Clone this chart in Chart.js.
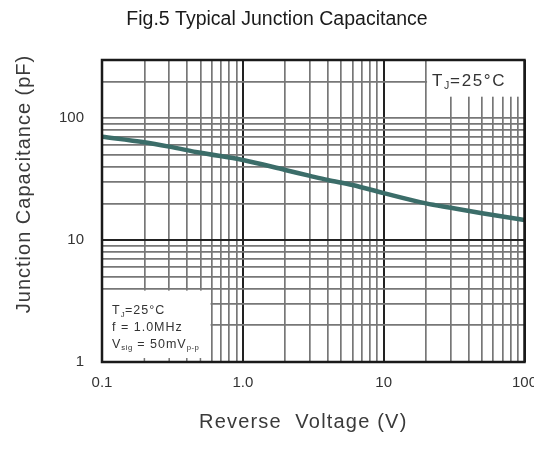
<!DOCTYPE html>
<html>
<head>
<meta charset="utf-8">
<script src="https://cdn.jsdelivr.net/npm/chart.js@4.4.1/dist/chart.umd.min.js"></script>
<style>
html,body{margin:0;padding:0;overflow:hidden;background:#fff;width:534px;height:450px}
#wrap{width:560px;height:450px}
</style>
</head>
<body>
<div id="wrap"><canvas id="c" width="560" height="450"></canvas></div>
<script>
// ---- data ----
const voltage     = [0.1, 0.2, 0.3, 0.5, 1, 2, 3, 4, 6, 10, 20, 30, 50, 100];
const capacitance = [70.5, 63.4, 58.4, 52.0, 45.4, 37.6, 33.6, 31.1, 28.3, 24.3, 20.0, 18.4, 16.6, 14.6];

const xGridValues = [0.1,0.2,0.3,0.4,0.5,0.6,0.7,0.8,0.9,1,2,3,4,5,6,7,8,9,10,20,30,40,50,60,70,80,90,100];
const yGridValues = [1,2,3,4,5,6,7,8,9,10,20,30,40,50,60,70,80,90,100,200,300];
const xTickValues = [0.1, 1, 10, 100];
const xTickLabels = ['0.1', '1.0', '10', '100'];
const yTickValues = [1, 10, 100];
const yTickLabels = ['1', '10', '100'];

const FAM = '"Liberation Sans", Arial, Helvetica, sans-serif';
const same = (a, b) => Math.abs(a - b) <= 1e-9 * Math.max(1, Math.abs(b));
const labelOf = (vals, labels, v) => { const i = vals.findIndex(t => same(t, v)); return i >= 0 ? labels[i] : ''; };
const xDark = [0.1, 1, 10, 100];
const yDark = [1, 10, 300];

function richText(ctx, parts, x, y, size, spacing) {
  let cx = x;
  for (const p of parts) {
    const s = p.sub ? size * 0.62 : size;
    ctx.font = s + 'px ' + FAM;
    ctx.letterSpacing = (p.sub ? spacing * 0.5 : spacing) + 'px';
    ctx.fillText(p.t, cx, y + (p.sub ? size * 0.22 : 0));
    cx += ctx.measureText(p.t).width;
  }
}

const overlay = {
  id: 'overlay',
  beforeDatasetsDraw(chart) {
    const {ctx, chartArea: a, scales: {x, y}} = chart;
    ctx.save();
    ctx.fillStyle = '#fff';
    // top-right note box (grid cleared)
    const x20 = x.getPixelForValue(20);
    const y150 = y.getPixelForValue(150);
    ctx.fillRect(x20 + 1, a.top, a.right - x20 - 1, y150 - a.top);
    // bottom-left note box
    const x06 = x.getPixelForValue(0.6);
    const y4 = y.getPixelForValue(4);
    ctx.fillRect(a.left, y4 + 2, x06 - 1 - a.left, a.bottom - y4 - 2);
    // small ticks at bottom inside the box
    ctx.strokeStyle = '#777';
    ctx.lineWidth = 1.5;
    xGridValues.filter(v => v > 0.1 && v < 0.6).forEach(v => {
      const px = x.getPixelForValue(v);
      ctx.beginPath(); ctx.moveTo(px, a.bottom); ctx.lineTo(px, a.bottom - 4); ctx.stroke();
    });
    // notes
    ctx.fillStyle = '#333';
    ctx.textAlign = 'left';
    ctx.textBaseline = 'alphabetic';
    richText(ctx, [{t: 'T'}, {t: 'J', sub: true}, {t: '=25°C'}], x20 + 6, a.top + 25.5, 17, 1.6);
    const lx = a.left + 10;
    richText(ctx, [{t: 'T'}, {t: 'J', sub: true}, {t: '=25°C'}], lx, a.bottom - 48, 12.5, 1);
    richText(ctx, [{t: 'f = 1.0MHz'}], lx, a.bottom - 31, 12.5, 1);
    richText(ctx, [{t: 'V'}, {t: 'sig', sub: true}, {t: ' = 50mV'}, {t: 'p-p', sub: true}], lx, a.bottom - 14.5, 12.5, 1);
    ctx.restore();
  },
  afterDatasetsDraw(chart) {
    const {ctx, chartArea: a} = chart;
    ctx.save();
    ctx.strokeStyle = '#1a1a1a';
    ctx.lineWidth = 2.5;
    ctx.strokeRect(a.left, a.top, a.right - a.left, a.bottom - a.top);
    ctx.restore();
  },
  afterDraw(chart) {
    const {ctx, chartArea: a} = chart;
    ctx.save();
    ctx.textAlign = 'center';
    ctx.textBaseline = 'middle';
    // chart title
    ctx.fillStyle = '#1a1a1a';
    ctx.font = '19.5px ' + FAM;
    ctx.letterSpacing = '0px';
    ctx.fillText('Fig.5 Typical Junction Capacitance', a.left + 175, a.top - 40);
    // axis titles
    ctx.fillStyle = '#3a3a3a';
    ctx.font = '20px ' + FAM;
    ctx.letterSpacing = '1.2px';
    ctx.fillText('Reverse  Voltage (V)', (a.left + a.right) / 2 - 10, a.bottom + 60);
    ctx.translate(a.left - 78, a.top + 124);
    ctx.rotate(-Math.PI / 2);
    ctx.letterSpacing = '1px';
    ctx.fillText('Junction Capacitance (pF)', 0, 0);
    ctx.restore();
  }
};

new Chart(document.getElementById('c'), {
  type: 'line',
  data: {
    datasets: [{
      data: voltage.map((v, i) => ({x: v, y: capacitance[i]})),
      borderColor: '#3b6d69',
      borderWidth: 4.5,
      pointRadius: 0,
      tension: 0.4,
      cubicInterpolationMode: 'monotone',
      fill: false
    }]
  },
  options: {
    responsive: false,
    devicePixelRatio: 1,
    animation: false,
    layout: {padding: {left: 0, right: 35.5, top: 60, bottom: 0}},
    plugins: {
      legend: {display: false},
      tooltip: {enabled: false},
      title: {display: false}
    },
    scales: {
      x: {
        type: 'logarithmic',
        min: 0.1, max: 100,
        afterBuildTicks: s => { s.ticks = xGridValues.map(v => ({value: v})); },
        afterFit: s => { s.height = 88; },
        border: {display: false},
        grid: {
          drawTicks: false,
          color: c => xDark.some(d => same(d, c.tick.value)) ? '#222' : '#777',
          lineWidth: c => xDark.some(d => same(d, c.tick.value)) ? 2 : 1.7
        },
        ticks: {
          autoSkip: false, maxRotation: 0, minRotation: 0, padding: 12,
          color: '#333', font: {family: FAM, size: 15},
          callback: v => labelOf(xTickValues, xTickLabels, v)
        }
      },
      y: {
        type: 'logarithmic',
        min: 1, max: 300,
        afterBuildTicks: s => { s.ticks = yGridValues.map(v => ({value: v})); },
        afterFit: s => { s.width = 102; },
        border: {display: false},
        grid: {
          drawTicks: false,
          color: c => yDark.some(d => same(d, c.tick.value)) ? '#222' : '#777',
          lineWidth: c => yDark.some(d => same(d, c.tick.value)) ? 2 : 1.7
        },
        ticks: {
          autoSkip: false, padding: 18,
          color: '#333', font: {family: FAM, size: 15},
          callback: v => labelOf(yTickValues, yTickLabels, v)
        }
      }
    }
  },
  plugins: [overlay]
});
</script>
</body>
</html>
